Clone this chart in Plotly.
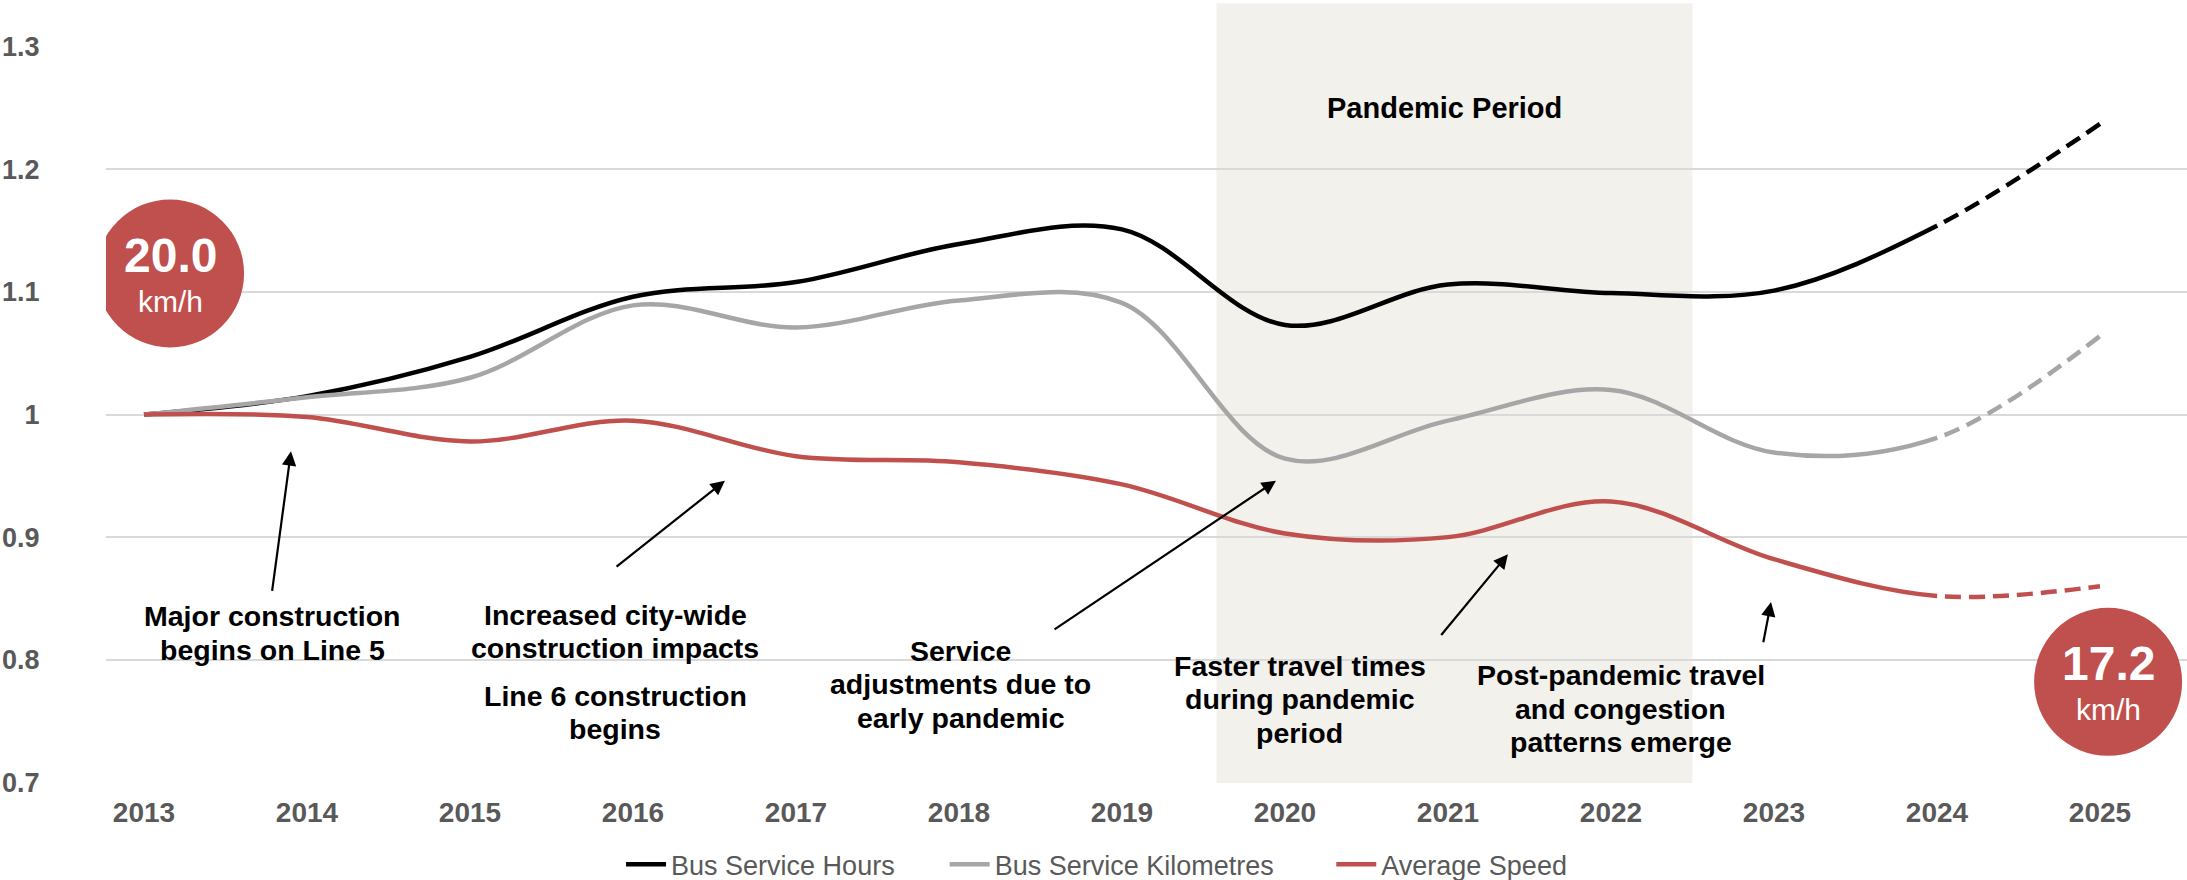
import plotly.graph_objects as go

# ---- data -------------------------------------------------------------
years = [2013, 2014, 2015, 2016, 2017, 2018, 2019, 2020, 2021, 2022, 2023, 2024, 2025]
year_labels = [str(y) for y in years]

# indexed to 2013 = 1
service_hours = [1.000, 1.015, 1.047, 1.096, 1.108, 1.139, 1.151, 1.073, 1.106, 1.099, 1.101, 1.154, 1.237]
service_km = [1.000, 1.014, 1.030, 1.089, 1.071, 1.093, 1.091, 0.964, 0.995, 1.020, 0.969, 0.981, 1.064]
speed_index = [1.000, 0.998, 0.978, 0.995, 0.966, 0.961, 0.943, 0.903, 0.900, 0.929, 0.882, 0.852, 0.860]

base_speed_kmh = 20.0           # average speed in 2013
last_actual_year = 2024         # values after this year are projections

y_ticks = [0.7, 0.8, 0.9, 1.0, 1.1, 1.2, 1.3]
y_tick_labels = ["0.7", "0.8", "0.9", "1", "1.1", "1.2", "1.3"]

pandemic_start, pandemic_end = 2019.58, 2022.5
pandemic_label = ("Pandemic Period", 2020.98, 1.25)

series = [
    ("Bus Service Hours", service_hours, "#000000"),
    ("Bus Service Kilometres", service_km, "#A6A6A6"),
    ("Average Speed", speed_index, "#C0504D"),
]

# annotation text blocks: (lines, x, y of block centre)
notes = [
    (["Major construction", "begins on Line 5"], 2013.79, 0.8220),
    (["Increased city-wide", "construction impacts"], 2015.89, 0.8230),
    (["Line 6 construction", "begins"], 2015.89, 0.7570),
    (["Service", "adjustments due to", "early pandemic"], 2018.01, 0.7800),
    (["Faster travel times", "during pandemic", "period"], 2020.09, 0.7680),
    (["Post-pandemic travel", "and congestion", "patterns emerge"], 2022.06, 0.7600),
]

# arrows: (tail x, tail y, head x, head y)
arrows = [
    (2013.785, 0.855, 2013.902, 0.970),
    (2015.890, 0.875, 2016.564, 0.946),
    (2018.577, 0.824, 2019.945, 0.946),
    (2020.951, 0.819, 2021.368, 0.886),
    (2022.933, 0.813, 2022.982, 0.847),
]

# ---- geometry ---------------------------------------------------------
WIDTH, HEIGHT = 2187, 880
MARGIN = dict(l=106, r=0, t=46, b=97)
X_RANGE = [2012.767, 2025.534]
Y_RANGE = [0.6995, 1.3005]
PLOT_W = WIDTH - MARGIN["l"] - MARGIN["r"]
PLOT_H = HEIGHT - MARGIN["t"] - MARGIN["b"]

FONT = "Liberation Sans, Arial, sans-serif"
GREY_TEXT = "#595959"
LINE_W = 4.5
DASH, GAP = 16, 8


def to_px(x, y):
    px = (x - X_RANGE[0]) / (X_RANGE[1] - X_RANGE[0]) * PLOT_W
    py = (Y_RANGE[1] - y) / (Y_RANGE[1] - Y_RANGE[0]) * PLOT_H
    return px, py


def _tangent(p0, p1, p2, smoothing=1.0):
    # same control-point rule as plotly.js spline lines (Catmull-Rom, exp 0.5)
    d1x, d1y = p0[0] - p1[0], p0[1] - p1[1]
    d2x, d2y = p2[0] - p1[0], p2[1] - p1[1]
    d1a = (d1x * d1x + d1y * d1y) ** 0.25
    d2a = (d2x * d2x + d2y * d2y) ** 0.25
    numx = (d2a * d2a * d1x - d1a * d1a * d2x) * smoothing
    numy = (d2a * d2a * d1y - d1a * d1a * d2y) * smoothing
    den1 = 3 * d2a * (d1a + d2a)
    den2 = 3 * d1a * (d1a + d2a)
    return ((p1[0] + numx / den1, p1[1] + numy / den1),
            (p1[0] - numx / den2, p1[1] - numy / den2))


def _bezier_len(ctrl, steps=400):
    def pt(t):
        u = 1 - t
        if len(ctrl) == 3:
            a, b, c = ctrl
            return (u * u * a[0] + 2 * u * t * b[0] + t * t * c[0],
                    u * u * a[1] + 2 * u * t * b[1] + t * t * c[1])
        a, b, c, d = ctrl
        return (u ** 3 * a[0] + 3 * u * u * t * b[0] + 3 * u * t * t * c[0] + t ** 3 * d[0],
                u ** 3 * a[1] + 3 * u * u * t * b[1] + 3 * u * t * t * c[1] + t ** 3 * d[1])
    total, prev = 0.0, pt(0.0)
    for i in range(1, steps + 1):
        cur = pt(i / steps)
        total += ((cur[0] - prev[0]) ** 2 + (cur[1] - prev[1]) ** 2) ** 0.5
        prev = cur
    return total


def spline_length(xs, ys, n_segments):
    """Length in px of the first n_segments of the plotted spline."""
    pts = [to_px(x, y) for x, y in zip(xs, ys)]
    n = len(pts)
    tans = [_tangent(pts[i - 1], pts[i], pts[i + 1]) for i in range(1, n - 1)]
    segs = [[pts[0], tans[0][0], pts[1]]]
    for i in range(2, n - 1):
        segs.append([pts[i - 1], tans[i - 2][1], tans[i - 1][0], pts[i]])
    segs.append([pts[n - 2], tans[n - 3][1], pts[n - 1]])
    return sum(_bezier_len(s) for s in segs[:n_segments])


def solid_then_dashed(xs, ys, switch_x):
    solid = spline_length(xs, ys, xs.index(switch_x))
    pattern = [f"{solid:.1f}px", f"{GAP}px"] + [f"{DASH}px,{GAP}px"] * 40
    return ",".join(pattern)


# ---- figure -----------------------------------------------------------
fig = go.Figure()

legend_pads = [6, 7, 0]
for (name, vals, color), pad in zip(series, legend_pads):
    fig.add_trace(go.Scatter(
        x=years, y=vals, mode="lines", name=name + "\u00a0" * pad,
        line=dict(color=color, width=LINE_W, shape="spline",
                  dash=solid_then_dashed(years, vals, last_actual_year)),
    ))

shapes = [
    dict(type="rect", xref="x", yref="paper", x0=pandemic_start, x1=pandemic_end,
         y0=0, y1=1.058, fillcolor="#F2F1EC", line=dict(width=0), layer="below"),
]

speed_color = series[2][2]
callouts = [
    (years[0] + 0.16, 1.115, base_speed_kmh * speed_index[0]),
    (years[-1] + 0.05, 0.782, base_speed_kmh * speed_index[-1]),
]
annotations = [
    dict(text=f"<b>{pandemic_label[0]}</b>", x=pandemic_label[1], y=pandemic_label[2],
         xref="x", yref="y", showarrow=False, font=dict(size=29, color="#000000", family=FONT)),
]
for cx, cy, val in callouts:
    shapes.append(dict(type="circle", xref="x", yref="y", xsizemode="pixel", ysizemode="pixel",
                       xanchor=cx, yanchor=cy, x0=-74, x1=74, y0=-74, y1=74,
                       fillcolor=speed_color, line=dict(width=0), layer="above"))
    annotations.append(dict(text=f"<b>{val:.1f}</b>", x=cx, y=cy, xref="x", yref="y",
                            yshift=18, showarrow=False,
                            font=dict(size=48, color="white", family=FONT)))
    annotations.append(dict(text="km/h", x=cx, y=cy, xref="x", yref="y",
                            yshift=-28, showarrow=False,
                            font=dict(size=30, color="white", family=FONT)))

LINE_STEP = 33.5
for lines, x, y in notes:
    n = len(lines)
    for i, line in enumerate(lines):
        annotations.append(dict(text=f"<b>{line}</b>", x=x, y=y, xref="x", yref="y",
                                yshift=((n - 1) / 2 - i) * LINE_STEP,
                                showarrow=False, align="center",
                                font=dict(size=28.5, color="#000000", family=FONT)))

for tx, ty, hx, hy in arrows:
    annotations.append(dict(text="", x=hx, y=hy, ax=tx, ay=ty, xref="x", yref="y",
                            axref="x", ayref="y", showarrow=True,
                            arrowhead=2, arrowsize=1.3, arrowwidth=2.2, arrowcolor="#000000"))

fig.update_layout(
    width=WIDTH, height=HEIGHT,
    margin=dict(MARGIN, autoexpand=False),
    paper_bgcolor="white", plot_bgcolor="rgba(0,0,0,0)",
    font=dict(family=FONT, color=GREY_TEXT),
    shapes=shapes, annotations=annotations,
    legend=dict(orientation="h", x=0.476, xanchor="center", y=-0.111, yanchor="middle",
                font=dict(size=27, color=GREY_TEXT, family=FONT), itemwidth=40),
    xaxis=dict(range=X_RANGE, tickvals=years, ticktext=year_labels, automargin=False,
               showgrid=False, zeroline=False, showline=False,
               ticks="outside", ticklen=4, tickcolor="rgba(0,0,0,0)",
               tickfont=dict(size=28, color=GREY_TEXT, family=FONT, weight="bold")),
    yaxis=dict(range=Y_RANGE, tickvals=y_ticks, ticktext=y_tick_labels, automargin=False,
               showgrid=True, gridcolor="#D9D9D9", gridwidth=1.5,
               zeroline=False, showline=False,
               ticks="outside", ticklen=60, tickcolor="rgba(0,0,0,0)",
               tickfont=dict(size=27, color=GREY_TEXT, family=FONT, weight="bold")),
    showlegend=True,
)

fig.write_html("out.html")
